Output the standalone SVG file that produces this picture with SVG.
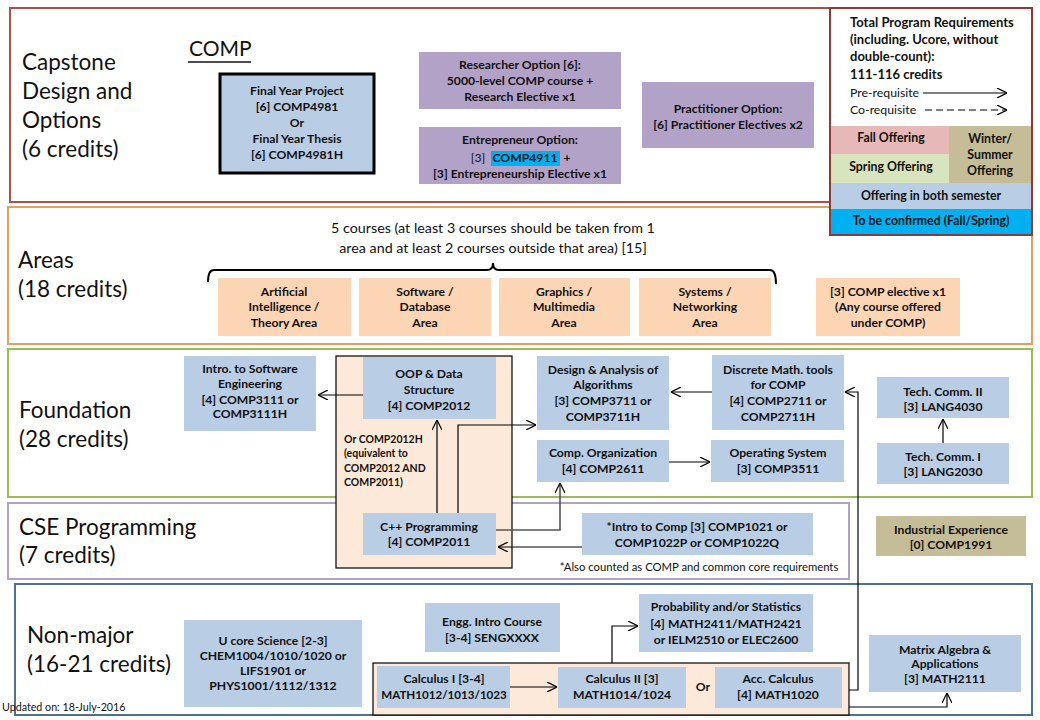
<svg xmlns="http://www.w3.org/2000/svg" width="1040" height="720" viewBox="0 0 1040 720">
<style>
text{font-family:Lato,"Liberation Sans",sans-serif;fill:#111}
.n{font-size:12.2px;font-weight:bold;text-anchor:middle}
.sec{font-size:22.5px;fill:#111}
.lg{font-size:13px}
.lp{font-size:12.3px}
.lc{font-size:12.3px;font-weight:bold;text-anchor:middle}
.b{font-weight:bold}
.blue{fill:#b9cde5}
.pur{fill:#b3a2c7}
.pch{fill:#fcd5b5}
.cont{fill:#fde9d9;stroke:#000;stroke-width:1.2}
.tan{fill:#c4bd97}
.c{fill:none;stroke:#000;stroke-width:1.2}
</style>
<defs>
<marker id="ah" viewBox="0 0 10 10" refX="10" refY="5" markerWidth="10" markerHeight="10" markerUnits="userSpaceOnUse" orient="auto">
<path d="M0,0 L10,5 L0,10" fill="none" stroke="#000" stroke-width="1.2"/>
</marker>
</defs>
<rect width="1040" height="720" fill="#fff"/>

<!-- sections -->
<g id="sec-capstone">
<rect x="10" y="8" width="1020" height="194" fill="none" stroke="#a9514d" stroke-width="2"/>
<text class="sec" x="22" y="70">Capstone</text>
<text class="sec" x="22" y="99">Design and</text>
<text class="sec" x="22" y="128">Options</text>
<text class="sec" x="22" y="157">(6 credits)</text>
<text x="189" y="56" style="font-size:21px;fill:#111">COMP</text>
<line x1="188" y1="62" x2="251" y2="62" stroke="#111" stroke-width="1.5"/>
</g>
<g id="sec-areas">
<rect x="8" y="207" width="1024" height="137" fill="none" stroke="#e0a062" stroke-width="2"/>
<text class="sec" x="18" y="268">Areas</text>
<text class="sec" x="18" y="297">(18 credits)</text>
<text x="493" y="233" style="font-size:14.3px" text-anchor="middle">5 courses  (at least 3 courses should be taken from 1</text>
<text x="493" y="253" style="font-size:14.3px" text-anchor="middle">area and at least 2 courses outside that area) [15]</text>
<path d="M208,282 Q208,270 214,270 L487,270 Q493,270 493,263 Q493,270 499,270 L770,270 Q776,270 776,284" fill="none" stroke="#000" stroke-width="2"/>
</g>
<g id="sec-foundation">
<rect x="8" y="349" width="1024" height="148" fill="none" stroke="#9bbb59" stroke-width="2"/>
<text class="sec" x="19" y="418">Foundation</text>
<text class="sec" x="19" y="447">(28 credits)</text>
</g>
<g id="sec-cse">
<rect x="8" y="503" width="841" height="76" fill="none" stroke="#b3a2c7" stroke-width="2"/>
<text class="sec" x="19" y="535">CSE Programming</text>
<text class="sec" x="19" y="563">(7 credits)</text>
</g>
<g id="sec-nonmajor">
<rect x="15" y="584" width="1017" height="131" fill="none" stroke="#50708f" stroke-width="2"/>
<text class="sec" x="27" y="643">Non-major</text>
<text class="sec" x="27" y="672">(16-21 credits)</text>
<text x="2" y="711" style="font-size:10.7px">Updated on: 18-July-2016</text>
</g>

<!-- legend -->
<g id="legend">
<rect x="830" y="8" width="202" height="227" fill="#fff" stroke="#953735" stroke-width="2"/>
<text class="lg b" x="850" y="27">Total Program Requirements</text>
<text class="lg b" x="850" y="44">(including. Ucore, without</text>
<text class="lg b" x="850" y="61">double-count):</text>
<text class="lg b" x="850" y="79">111-116  credits</text>
<text class="lp" x="850" y="97">Pre-requisite</text>
<text class="lp" x="850" y="114">Co-requisite</text>
<line x1="923" y1="93" x2="1007" y2="93" class="c" marker-end="url(#ah)"/>
<line x1="925" y1="110" x2="1007" y2="110" class="c" stroke-dasharray="7,4" marker-end="url(#ah)"/>
<rect x="831" y="126" width="118" height="28" fill="#e6b9b8"/>
<rect x="831" y="154" width="118" height="29" fill="#d7e4bd"/>
<rect x="949" y="126" width="82" height="57" class="tan"/>
<rect x="831" y="183" width="200" height="26" class="blue"/>
<rect x="831" y="209" width="200" height="25" fill="#00b0f0"/>
<text class="lc" x="891" y="142">Fall Offering</text>
<text class="lc" x="891" y="171">Spring Offering</text>
<text class="lc" x="990" y="143">Winter/</text>
<text class="lc" x="990" y="159">Summer</text>
<text class="lc" x="990" y="175">Offering</text>
<text class="lc" x="931" y="200">Offering in both semester</text>
<text class="lc" x="931" y="225">To be confirmed (Fall/Spring)</text>
</g>

<!-- capstone nodes -->
<g id="final-year">
<rect x="220" y="74" width="154" height="99" class="blue" stroke="#000" stroke-width="3"/>
<text class="n" x="297" y="95">Final Year Project</text>
<text class="n" x="297" y="111">[6] COMP4981</text>
<text class="n" x="297" y="127">Or</text>
<text class="n" x="297" y="143">Final Year Thesis</text>
<text class="n" x="297" y="159">[6] COMP4981H</text>
</g>
<g id="researcher">
<rect x="419" y="52" width="202" height="57" class="pur"/>
<text class="n" x="520" y="69">Researcher Option [6]:</text>
<text class="n" x="520" y="85">5000-level COMP course +</text>
<text class="n" x="520" y="101">Research Elective x1</text>
</g>
<g id="entrepreneur">
<rect x="419" y="127" width="202" height="57" class="pur"/>
<rect x="491" y="151" width="69" height="15" fill="#00b0f0"/>
<text class="n" x="520" y="144">Entrepreneur Option:</text>
<text class="n" x="478" y="162" style="font-weight:normal">[3]</text>
<text class="n" x="525" y="162">COMP4911</text>
<text class="n" x="567" y="162">+</text>
<text class="n" x="520" y="178">[3] Entrepreneurship Elective x1</text>
</g>
<g id="practitioner">
<rect x="642" y="82" width="172" height="66" class="pur"/>
<text class="n" x="728" y="113">Practitioner Option:</text>
<text class="n" x="728" y="129">[6] Practitioner Electives x2</text>
</g>

<!-- areas nodes -->
<g id="area-ai">
<rect x="218" y="278" width="133" height="58" class="pch"/>
<text class="n" x="284" y="296">Artificial</text>
<text class="n" x="284" y="311">Intelligence /</text>
<text class="n" x="284" y="327">Theory Area</text>
</g>
<g id="area-sw">
<rect x="359" y="278" width="132" height="58" class="pch"/>
<text class="n" x="425" y="296">Software /</text>
<text class="n" x="425" y="311">Database</text>
<text class="n" x="425" y="327">Area</text>
</g>
<g id="area-gfx">
<rect x="499" y="278" width="131" height="58" class="pch"/>
<text class="n" x="564" y="296">Graphics  /</text>
<text class="n" x="564" y="311">Multimedia</text>
<text class="n" x="564" y="327">Area</text>
</g>
<g id="area-sys">
<rect x="639" y="278" width="132" height="58" class="pch"/>
<text class="n" x="705" y="296">Systems /</text>
<text class="n" x="705" y="311">Networking</text>
<text class="n" x="705" y="327">Area</text>
</g>
<g id="area-elective">
<rect x="816" y="278" width="144" height="58" class="pch"/>
<text class="n" x="888" y="296">[3] COMP elective x1</text>
<text class="n" x="888" y="311">(Any course offered</text>
<text class="n" x="888" y="327">under COMP)</text>
</g>

<!-- foundation / cse nodes -->
<g id="cpp-container">
<rect x="336" y="356" width="176" height="212" class="cont"/>
<text x="344" y="443" style="font-size:10.5px;font-weight:bold">Or COMP2012H</text>
<text x="344" y="457" style="font-size:10.5px;font-weight:bold">(equivalent to</text>
<text x="344" y="472" style="font-size:10.5px;font-weight:bold">COMP2012 AND</text>
<text x="344" y="486" style="font-size:10.5px;font-weight:bold">COMP2011)</text>
</g>
<g id="intro-se">
<rect x="184" y="356" width="132" height="75" class="blue"/>
<text class="n" x="250" y="373">Intro. to Software</text>
<text class="n" x="250" y="388">Engineering</text>
<text class="n" x="250" y="404">[4] COMP3111 or</text>
<text class="n" x="250" y="418">COMP3111H</text>
</g>
<g id="oop">
<rect x="363" y="357" width="133" height="62" class="blue"/>
<text class="n" x="429" y="378">OOP &amp; Data</text>
<text class="n" x="429" y="394">Structure</text>
<text class="n" x="429" y="410">[4] COMP2012</text>
</g>
<g id="daa">
<rect x="537" y="356" width="132" height="74" class="blue"/>
<text class="n" x="603" y="374">Design &amp; Analysis  of</text>
<text class="n" x="603" y="389">Algorithms</text>
<text class="n" x="603" y="405">[3] COMP3711 or</text>
<text class="n" x="603" y="421">COMP3711H</text>
</g>
<g id="discrete">
<rect x="712" y="355" width="132" height="75" class="blue"/>
<text class="n" x="778" y="374">Discrete Math. tools</text>
<text class="n" x="778" y="389">for COMP</text>
<text class="n" x="778" y="405">[4] COMP2711 or</text>
<text class="n" x="778" y="421">COMP2711H</text>
</g>
<g id="comp-org">
<rect x="537" y="440" width="132" height="42" class="blue"/>
<text class="n" x="603" y="457">Comp. Organization</text>
<text class="n" x="603" y="473">[4] COMP2611</text>
</g>
<g id="os">
<rect x="711" y="440" width="133" height="42" class="blue"/>
<text class="n" x="778" y="457">Operating System</text>
<text class="n" x="778" y="473">[3] COMP3511</text>
</g>
<g id="tech2">
<rect x="877" y="377" width="132" height="41" class="blue"/>
<text class="n" x="943" y="396">Tech. Comm. II</text>
<text class="n" x="943" y="411">[3] LANG4030</text>
</g>
<g id="tech1">
<rect x="877" y="443" width="132" height="41" class="blue"/>
<text class="n" x="943" y="461">Tech. Comm. I</text>
<text class="n" x="943" y="476">[3] LANG2030</text>
</g>
<g id="cpp">
<rect x="363" y="513" width="133" height="42" class="blue"/>
<text class="n" x="429" y="531">C++ Programming</text>
<text class="n" x="429" y="546">[4] COMP2011</text>
</g>
<g id="intro-comp">
<rect x="582" y="513" width="231" height="42" class="blue"/>
<text class="n" x="697" y="531">*Intro to Comp [3] COMP1021 or</text>
<text class="n" x="697" y="547">COMP1022P or COMP1022Q</text>
<text x="699" y="571" text-anchor="middle" style="font-size:11.3px">*Also counted  as COMP and common core requirements</text>
</g>
<g id="industrial">
<rect x="876" y="516" width="150" height="40" class="tan"/>
<text class="n" x="951" y="534">Industrial  Experience</text>
<text class="n" x="951" y="549">[0] COMP1991</text>
</g>

<!-- non-major nodes -->
<g id="ucore">
<rect x="184" y="620" width="178" height="87" class="blue"/>
<text class="n" x="273" y="645">U core Science [2-3]</text>
<text class="n" x="273" y="660">CHEM1004/1010/1020 or</text>
<text class="n" x="273" y="675">LIFS1901 or</text>
<text class="n" x="273" y="690">PHYS1001/1112/1312</text>
</g>
<g id="engg-intro">
<rect x="425" y="603" width="135" height="49" class="blue"/>
<text class="n" x="492" y="626">Engg. Intro Course</text>
<text class="n" x="492" y="642">[3-4] SENGXXXX</text>
</g>
<g id="probability">
<rect x="639" y="594" width="174" height="58" class="blue"/>
<text class="n" x="726" y="611">Probability and/or Statistics</text>
<text class="n" x="726" y="628">[4] MATH2411/MATH2421</text>
<text class="n" x="726" y="644">or IELM2510 or ELEC2600</text>
</g>
<g id="calc-container">
<rect x="373" y="663" width="476" height="52" class="cont"/>
<text class="n" x="703" y="691">Or</text>
</g>
<g id="calc1">
<rect x="377" y="666" width="133" height="42" class="blue"/>
<text class="n" x="444" y="683">Calculus I [3-4]</text>
<text class="n" x="444" y="699" style="font-size:11.6px">MATH1012/1013/1023</text>
</g>
<g id="calc2">
<rect x="558" y="667" width="128" height="41" class="blue"/>
<text class="n" x="622" y="683">Calculus II [3]</text>
<text class="n" x="622" y="699">MATH1014/1024</text>
</g>
<g id="acc-calc">
<rect x="715" y="667" width="127" height="41" class="blue"/>
<text class="n" x="778" y="683">Acc. Calculus</text>
<text class="n" x="778" y="699">[4] MATH1020</text>
</g>
<g id="matrix">
<rect x="869" y="635" width="152" height="57" class="blue"/>
<text class="n" x="945" y="654">Matrix Algebra &amp;</text>
<text class="n" x="945" y="668">Applications</text>
<text class="n" x="945" y="683">[3] MATH2111</text>
</g>

<!-- connectors -->
<g id="connectors">
<path class="c" d="M363,395 L318,395" marker-end="url(#ah)"/>
<path class="c" d="M437,513 L437,420" marker-end="url(#ah)"/>
<path class="c" d="M458,513 L458,425 L536,425" marker-end="url(#ah)"/>
<path class="c" d="M496,530 L560,530 L560,483" style="stroke:#555;stroke-width:1.6" marker-end="url(#ah)"/>
<path class="c" d="M582,547 L498,547" marker-end="url(#ah)"/>
<path class="c" d="M712,392 L671,392" marker-end="url(#ah)"/>
<path class="c" d="M669,462 L710,462" marker-end="url(#ah)"/>
<path class="c" d="M943,443 L943,419" marker-end="url(#ah)"/>
<path class="c" d="M510,687 L557,687" marker-end="url(#ah)"/>
<path class="c" d="M612,663 L612,626 L638,626" marker-end="url(#ah)"/>
<path class="c" d="M849,707 L947,707 L947,693" marker-end="url(#ah)"/>
<path class="c" d="M849,690 L858,690 L858,392 L845,392" marker-end="url(#ah)"/>
</g>
</svg>
